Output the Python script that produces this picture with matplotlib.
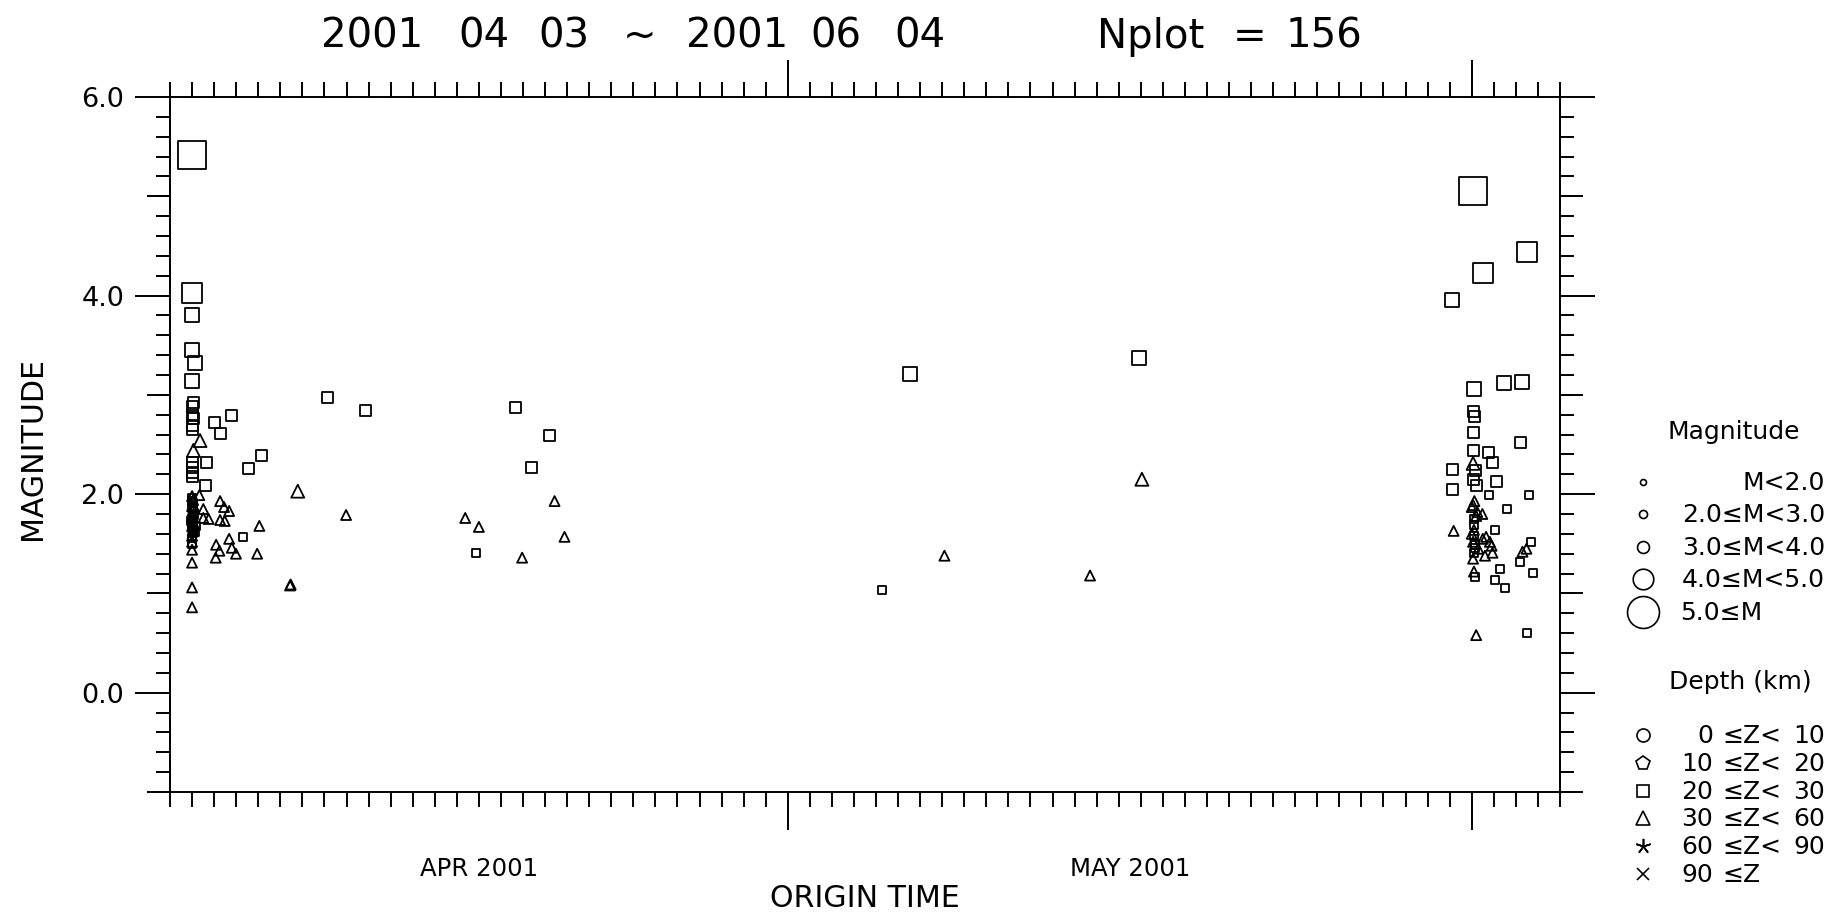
import numpy as np
import matplotlib
matplotlib.use("Agg")
import matplotlib.pyplot as plt
import matplotlib.dates as mdates
import matplotlib.transforms as mtransforms
from matplotlib.ticker import MultipleLocator, FixedLocator, NullLocator, NullFormatter, FormatStrFormatter
from matplotlib import font_manager
from datetime import datetime

# plot period
t_start = datetime(2001, 4, 3)
t_end = datetime(2001, 6, 5)
month_labels = ["APR 2001", "MAY 2001"]

# depth 20-30 km (squares): days after 2001-04-03 00:00 and magnitude
sq_day = [0.98, 1.00, 1.00, 1.00, 1.12, 1.00, 1.05, 1.00, 1.02, 1.05, 1.00, 1.00,
          2.00, 2.81, 2.31, 1.00, 1.00, 1.00, 1.00, 1.66, 3.54, 4.14, 1.63,
          7.15, 8.87, 15.68, 17.20, 16.40, 3.33, 13.86,
          1.00, 1.02, 0.98, 1.03, 1.00, 1.05, 1.00, 1.02, 1.00, 1.08, 1.20,
          1.00, 0.97, 1.03, 1.00, 1.05, 1.15,
          32.27, 33.55, 43.94,
          59.06, 61.50, 59.50, 58.10, 59.10, 60.46, 61.30, 59.06, 59.13, 59.10,
          59.06, 59.75, 59.95, 61.19, 58.14, 58.14, 59.17, 59.06, 59.20, 60.10,
          59.80, 61.60, 60.62, 60.05, 61.68, 61.18, 61.76, 60.28, 60.05, 60.52,
          61.50, 59.17, 59.10, 59.12, 59.15, 59.10, 59.10, 59.15]
sq_mag = [5.42, 4.03, 3.80, 3.45, 3.32, 3.14, 2.92, 2.88, 2.79, 2.76, 2.69, 2.65,
          2.72, 2.79, 2.61, 2.32, 2.27, 2.22, 2.18, 2.32, 2.26, 2.39, 2.09,
          2.97, 2.84, 2.87, 2.59, 2.27, 1.57, 1.41,
          1.96, 1.91, 1.86, 1.80, 1.75, 1.70, 1.66, 1.61, 1.56, 1.79, 1.68,
          1.93, 1.73, 1.64, 1.50, 1.85, 1.62,
          1.03, 3.21, 3.37,
          5.05, 4.44, 4.23, 3.96, 3.06, 3.12, 3.13, 2.83, 2.78, 2.62,
          2.44, 2.42, 2.32, 2.52, 2.25, 2.05, 2.24, 2.15, 2.09, 2.13,
          1.99, 1.99, 1.85, 1.64, 1.52, 1.32, 1.21, 1.25, 1.14, 1.05,
          0.60, 1.17, 1.75, 1.69, 1.46, 1.41, 1.58, 1.49]

# depth 30-60 km (triangles)
tri_day = [1.36, 1.06, 5.79,
           1.33, 2.27, 2.45, 2.68, 1.51, 1.51, 1.75, 2.27, 2.48, 4.05, 2.09, 2.24,
           2.68, 2.80, 2.99, 2.07, 3.95, 7.98, 5.44, 5.47, 13.38, 14.00, 17.43,
           17.88, 15.96,
           1.00, 1.00, 1.00, 1.00,
           1.00, 1.05, 1.00, 1.02, 1.00, 1.05, 1.00, 1.03, 1.00, 1.00, 1.10,
           35.10, 41.70, 44.05,
           59.06, 58.18, 59.20, 59.10, 59.06, 59.25, 59.48, 59.10, 59.06, 59.06,
           59.50, 59.65, 59.82, 59.94, 59.60, 61.30, 61.48, 59.00, 59.20, 59.00,
           59.30, 59.90, 59.12]
tri_mag = [2.54, 2.44, 2.03,
           1.99, 1.93, 1.87, 1.83, 1.85, 1.76, 1.75, 1.74, 1.73, 1.68, 1.49, 1.43,
           1.55, 1.46, 1.40, 1.36, 1.40, 1.79, 1.08, 1.09, 1.76, 1.67, 1.93,
           1.57, 1.36,
           1.44, 1.31, 1.06, 0.86,
           1.98, 1.94, 1.88, 1.83, 1.78, 1.72, 1.68, 1.63, 1.58, 1.52, 1.87,
           1.38, 1.18, 2.15,
           2.31, 1.63, 0.58, 1.22, 1.89, 1.82, 1.80, 1.64, 1.52, 1.35,
           1.55, 1.57, 1.52, 1.41, 1.38, 1.42, 1.45, 1.87, 1.78, 1.60,
           1.45, 1.48, 1.93]

mag_edges = [2.0, 3.0, 4.0, 5.0]
mag_text = ["M<2.0", "2.0≤M<3.0", "3.0≤M<4.0", "4.0≤M<5.0", "5.0≤M"]
depth_lo = ["0", "10", "20", "30", "60", "90"]
depth_hi = ["10", "20", "30", "60", "90", ""]
depth_marker = ["o", "p", "s", "^", (5, 2, 0), "x"]

# fonts
names = set(f.name for f in font_manager.fontManager.ttflist)
if "Liberation Sans Narrow" in names:
    narrow, nk = "Liberation Sans Narrow", 1.0
else:
    narrow, nk = "DejaVu Sans", 0.8
plain = "DejaVu Sans"

W, H = 1843, 915
fig = plt.figure(figsize=(W / 100, H / 100), dpi=100)
ax = fig.add_axes([170 / W, 123 / H, 1390 / W, 695 / H])
lax = fig.add_axes([0, 0, 1, 1], zorder=-1)
lax.set_xlim(0, W)
lax.set_ylim(H, 0)
lax.axis("off")

x0 = mdates.date2num(t_start)
side_sq = np.array([8, 11, 14, 20, 28]) * 0.72
side_tri = np.array([10, 13, 16, 22, 30]) * 0.72

for day, mag, mk, side in [(sq_day, sq_mag, "s", side_sq), (tri_day, tri_mag, "^", side_tri)]:
    mag = np.array(mag)
    cls = np.digitize(mag, mag_edges)
    ax.scatter(x0 + np.array(day), mag, s=side[cls] ** 2, marker=mk,
               facecolors="none", edgecolors="k", linewidths=1.3, clip_on=False)

ax.set_xlim(mdates.date2num(t_start), mdates.date2num(t_end))
ax.set_ylim(-1, 6)

for s in ax.spines.values():
    s.set_linewidth(1.4)

ax.xaxis.set_major_locator(mdates.MonthLocator())
ax.xaxis.set_minor_locator(mdates.DayLocator())
ax.xaxis.set_major_formatter(NullFormatter())
ax.tick_params(axis="x", which="both", top=True, bottom=True, direction="out", width=1.4)
ax.tick_params(axis="x", which="major", length=27)
ax.tick_params(axis="x", which="minor", length=10.5)

ax.yaxis.set_major_locator(FixedLocator([0, 2, 4, 6]))
ax.yaxis.set_minor_locator(MultipleLocator(0.2))
ax.yaxis.set_major_formatter(FormatStrFormatter("%.1f"))
ax.tick_params(axis="y", which="both", left=True, right=True, direction="out", width=1.4)
ax.tick_params(axis="y", which="major", length=25, pad=8, labelsize=19.5)
ax.tick_params(axis="y", which="minor", length=10)
for lab in ax.get_yticklabels():
    lab.set_family(plain)

# medium ticks at odd integers
for side in ["left", "right"]:
    sec = ax.secondary_yaxis(side)
    sec.set_yticks([-1, 1, 3, 5])
    sec.yaxis.set_minor_locator(NullLocator())
    sec.tick_params(axis="y", length=16.5, width=1.4, direction="out",
                    labelleft=False, labelright=False)
    for s in sec.spines.values():
        s.set_linewidth(1.4)

# month names centred between month boundaries
bounds = [ax.get_xlim()[0]] + [mdates.date2num(datetime(2001, m, 1)) for m in (5, 6)]
tr = mtransforms.blended_transform_factory(ax.transData, lax.transData)
for lab, a, b in zip(month_labels, bounds[:-1], bounds[1:]):
    ax.text((a + b) / 2, 876, lab, transform=tr, ha="center", va="baseline",
            family=narrow, fontsize=22 * nk)

lax.text(865, 907, "ORIGIN TIME", ha="center", va="baseline", family=narrow, fontsize=27 * nk)
lax.text(33, 449, "MAGNITUDE", ha="center", va="center", rotation=90,
         family=narrow, fontsize=27 * nk)

# title
title_tokens = ["2001", "04", "03", "~", "2001", "06", "04", "Nplot", "=", "156"]
title_x = [372, 484, 564, 640, 737, 836, 920, 1151, 1250, 1324]
tsize = 34 if nk == 1.0 else 29
for tok, tx in zip(title_tokens, title_x):
    lax.text(tx, 48, tok, ha="center", va="baseline", family=narrow, fontsize=tsize)

# legend
fs = 18
lax.text(1668, 439, "Magnitude", ha="left", va="baseline", family=plain, fontsize=fs)
circ = [4.3, 5.8, 8.6, 14.8, 23]
rows_m = [482, 514, 547, 579, 612]
for txt, ms, y in zip(mag_text, circ, rows_m):
    lax.plot(1643, y, "o", ms=ms, mfc="none", mec="k", mew=1.2)
    if txt.startswith("5.0"):
        lax.text(1680, y + 8, txt, ha="left", va="baseline", family=plain, fontsize=fs)
    else:
        lax.text(1825, y + 8, txt, ha="right", va="baseline", family=plain, fontsize=fs)

lax.text(1669, 689, "Depth (km)", ha="left", va="baseline", family=plain, fontsize=fs)
rows_d = [735, 763, 791, 818, 846, 874]
dms = [9.4, 10.5, 8.5, 9.5, 11, 8]
for lo, hi, mk, ms, y in zip(depth_lo, depth_hi, depth_marker, dms, rows_d):
    lax.plot(1643, y, marker=mk, ms=ms, mfc="none", mec="k", mew=1.2, ls="none")
    lax.text(1713, y + 8, lo, ha="right", va="baseline", family=plain, fontsize=fs)
    lax.text(1722, y + 8, "≤Z<" if hi else "≤Z", ha="left", va="baseline", family=plain, fontsize=fs)
    if hi:
        lax.text(1825, y + 8, hi, ha="right", va="baseline", family=plain, fontsize=fs)

fig.savefig("out.png", dpi=100)
